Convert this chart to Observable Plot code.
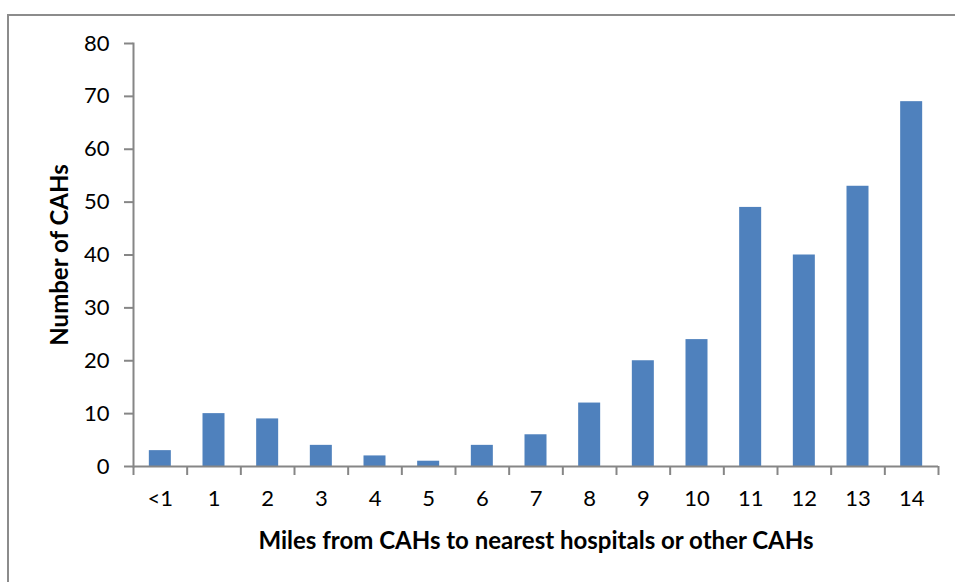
<!DOCTYPE html>
<html>
<head>
<meta charset="utf-8">
<script src="https://cdn.jsdelivr.net/npm/d3@7"></script>
<script src="https://cdn.jsdelivr.net/npm/@observablehq/plot@0.6"></script>
<style>
  html, body { margin: 0; padding: 0; background: #fff; }
  #wrap { position: relative; width: 955px; height: 582px; overflow: hidden; }
  #border { position: absolute; left: 7px; top: 14px; width: 980px; height: 600px; border: 2px solid #8c8c8c; box-sizing: border-box; }
  #chart { position: absolute; left: 0; top: 0; }
</style>
</head>
<body>
<div id="wrap"><div id="border"></div><div id="chart"></div></div>
<script>
const categories = ["<1", "1", "2", "3", "4", "5", "6", "7", "8", "9", "10", "11", "12", "13", "14"];
const counts = [3, 10, 9, 4, 2, 1, 4, 6, 12, 20, 24, 49, 40, 53, 69];
const yTicks = [0, 10, 20, 30, 40, 50, 60, 70, 80];
const xTitle = "Miles from CAHs to nearest hospitals or other CAHs";
const yTitle = "Number of CAHs";

const data = categories.map((c, i) => ({cat: c, n: counts[i]}));

const W = 955, H = 582;
const mL = 133, mR = 17, mT = 43, mB = 116;
const bw = (W - mL - mR) / categories.length;
const axisColor = "#868686";
const font = "Lato, 'Open Sans', sans-serif";

const chart = Plot.plot({
  width: W,
  height: H,
  marginLeft: mL,
  marginRight: mR,
  marginTop: mT,
  marginBottom: mB,
  style: {fontFamily: font, fontSize: "22px", color: "#000", background: "transparent", overflow: "visible"},
  x: {domain: categories, paddingInner: 0.59, paddingOuter: 0.295, align: 0.5, round: false, label: null},
  y: {domain: [0, 80], label: null},
  marks: [
    Plot.barY(data, {x: "cat", y: "n", fill: "#4F81BD"}),
    Plot.frame({anchor: "left", stroke: axisColor, strokeWidth: 2}),
    Plot.ruleY([0], {stroke: axisColor, strokeWidth: 2}),
    Plot.axisY({ticks: yTicks, tickSize: 9, tickPadding: 15, stroke: axisColor, strokeWidth: 2, fill: "#000", fontSize: 22, label: null}),
    Plot.axisX({ticks: categories, tickSize: 9, text: null, dx: -bw / 2, stroke: axisColor, strokeWidth: 2, label: null}),
    Plot.axisX({ticks: [categories[categories.length - 1]], tickSize: 9, text: null, dx: bw / 2, stroke: axisColor, strokeWidth: 2, label: null}),
    Plot.axisX({ticks: categories, tickSize: 0, tickPadding: 24, fill: "#000", fontSize: 22, label: null}),
    Plot.text([xTitle], {frameAnchor: "bottom", dy: 75, fontWeight: "bold", fontSize: 24, fill: "#000", textAnchor: "middle", lineAnchor: "middle"}),
    Plot.text([yTitle], {frameAnchor: "left", dx: -73, rotate: -90, fontWeight: "bold", fontSize: 24, fill: "#000", textAnchor: "middle", lineAnchor: "middle"})
  ]
});
document.getElementById("chart").appendChild(chart);
</script>
</body>
</html>
